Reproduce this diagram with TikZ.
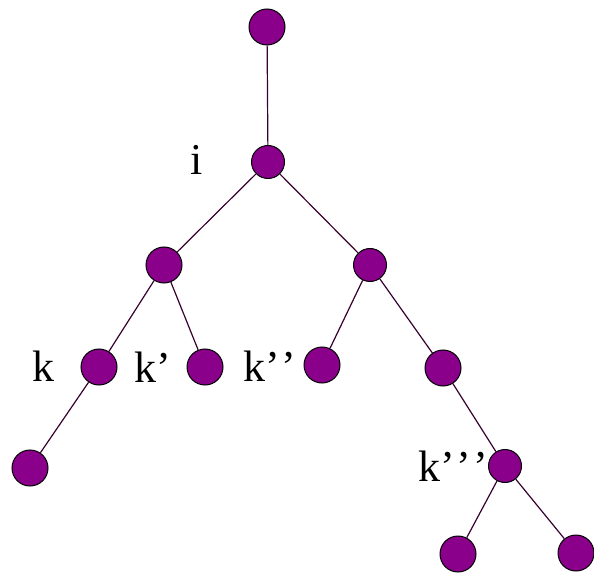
\documentclass[tikz,border=0pt]{standalone}
\usepackage{fontspec}
\setmainfont{Liberation Serif}
\definecolor{nodepurple}{RGB}{139,0,139}
\definecolor{edgedark}{RGB}{55,0,45}
\newcommand{\pr}{'\kern2pt}

\begin{document}
\begin{tikzpicture}[x=1pt, y=-1pt, font=\fontsize{44}{48}\selectfont,
    vertex/.style={circle, draw=black, line width=1pt, fill=nodepurple,
                   inner sep=0pt, minimum size=36pt},
    small/.style={minimum size=33pt},
    edge/.style={draw=edgedark, line width=1.2pt}]

  \useasboundingbox (0,0) rectangle (594,577);

  % vertices
  \node[vertex]        (root) at (267, 27)  {};
  \node[vertex, small] (i)    at (268,162)  {};
  \node[vertex]        (a)    at (164,265)  {};
  \node[vertex, small] (b)    at (370,265)  {};
  \node[vertex]        (k)    at ( 99,367)  {};
  \node[vertex]        (kp)   at (205,367)  {};
  \node[vertex]        (kpp)  at (322,365)  {};
  \node[vertex]        (c)    at (443,368)  {};
  \node[vertex]        (leaf) at ( 30,468)  {};
  \node[vertex, small] (kppp) at (505,466)  {};
  \node[vertex]        (d)    at (458,554)  {};
  \node[vertex]        (e)    at (576,553)  {};

  % edges
  \draw[edge] (root) -- (i);
  \draw[edge] (i) -- (a);
  \draw[edge] (i) -- (b);
  \draw[edge] (a) -- (k);
  \draw[edge] (a) -- (kp);
  \draw[edge] (b) -- (kpp);
  \draw[edge] (b) -- (c);
  \draw[edge] (k) -- (leaf);
  \draw[edge] (c) -- (kppp);
  \draw[edge] (kppp) -- (d);
  \draw[edge] (kppp) -- (e);

  % labels
  \node (li)    at (197,160) {i};
  \node (lk)    at ( 43,366) {k};
  \node (lkp)   at (153,367) {k'};
  \node (lkpp)  at (270,366) {k\pr'};
  \node (lkppp) at (453,466) {k\pr\pr'};

\end{tikzpicture}
\end{document}
